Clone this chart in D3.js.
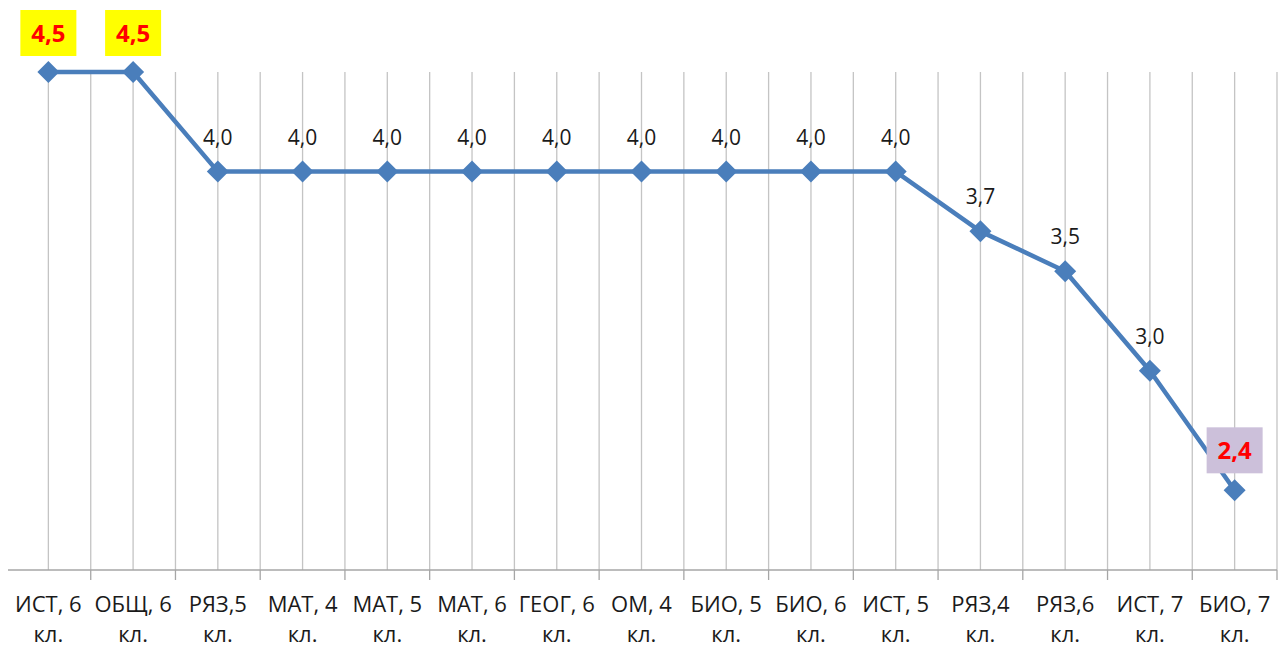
<!DOCTYPE html>
<html>
<head>
<meta charset="utf-8">
<script src="https://cdn.jsdelivr.net/npm/d3@7"></script>
<style>
  body { margin: 0; background: #fff; }
  text { font-family: "Open Sans", sans-serif; }
</style>
</head>
<body>
<div id="chart"></div>
<script>
const categories = ['ИСТ, 6 кл.', 'ОБЩ, 6 кл.', 'РЯЗ,5 кл.', 'МАТ, 4 кл.', 'МАТ, 5 кл.', 'МАТ, 6 кл.', 'ГЕОГ, 6 кл.', 'ОМ, 4 кл.', 'БИО, 5 кл.', 'БИО, 6 кл.', 'ИСТ, 5 кл.', 'РЯЗ,4 кл.', 'РЯЗ,6 кл.', 'ИСТ, 7 кл.', 'БИО, 7 кл.'];
const values = [4.5, 4.5, 4.0, 4.0, 4.0, 4.0, 4.0, 4.0, 4.0, 4.0, 4.0, 3.7, 3.5, 3.0, 2.4];
// highlighted labels: index -> box fill
const highlights = {0: '#ffff00', 1: '#ffff00', 14: '#ccc0da'};

const w = 1281, h = 650;
const plot_left = 6, plot_right = 1277, plot_top = 72, plot_bottom = 570;

const svg = d3.select('#chart').append('svg')
  .attr('width', w).attr('height', h);

const x = d3.scaleBand().domain(categories).range([plot_left, plot_right]);
const y = d3.scaleLinear().domain([2, 4.5]).range([plot_bottom, plot_top]);
const cx = d => x(d) + x.bandwidth() / 2;

// vertical gridlines at centres and band edges
const gridX = [];
categories.forEach((c, i) => {
  gridX.push(cx(c));
  gridX.push(x(c) + x.bandwidth());
});
svg.append('g').selectAll('line')
  .data(gridX)
  .enter().append('line')
  .attr('x1', d => d).attr('x2', d => d)
  .attr('y1', plot_top).attr('y2', plot_bottom)
  .attr('stroke', '#c4c4c4').attr('stroke-width', 1.3);

// x axis line + ticks
svg.append('line')
  .attr('x1', plot_left + 2).attr('x2', plot_right)
  .attr('y1', plot_bottom).attr('y2', plot_bottom)
  .attr('stroke', '#a6a6a6').attr('stroke-width', 1.3);
svg.append('g').selectAll('line')
  .data(categories)
  .enter().append('line')
  .attr('x1', d => x(d) + x.bandwidth()).attr('x2', d => x(d) + x.bandwidth())
  .attr('y1', plot_bottom).attr('y2', plot_bottom + 10)
  .attr('stroke', '#a6a6a6').attr('stroke-width', 1.3);

// category labels, two lines
const lab = svg.append('g').selectAll('text')
  .data(categories)
  .enter().append('text')
  .attr('text-anchor', 'middle')
  .attr('font-size', 22)
  .attr('fill', '#1a1a1a');
lab.append('tspan')
  .attr('x', d => cx(d)).attr('y', 612)
  .text(d => d.substring(0, d.lastIndexOf(' ')));
lab.append('tspan')
  .attr('x', d => cx(d)).attr('y', 642)
  .text(d => d.substring(d.lastIndexOf(' ') + 1));

// line
const line = d3.line()
  .x((d, i) => cx(categories[i]))
  .y(d => y(d));
svg.append('path')
  .datum(values)
  .attr('d', line)
  .attr('fill', 'none')
  .attr('stroke', '#4a7ebb')
  .attr('stroke-width', 4.5)
  .attr('stroke-linejoin', 'round');

// diamond markers
svg.append('g').selectAll('path')
  .data(values)
  .enter().append('path')
  .attr('d', 'M0,-11L11,0L0,11L-11,0Z')
  .attr('transform', (d, i) => 'translate(' + cx(categories[i]) + ',' + y(d) + ')')
  .attr('fill', '#4a7ebb');

// data labels
const fmt = v => v.toFixed(1).replace('.', ',');
values.forEach((v, i) => {
  const px = cx(categories[i]);
  const py = y(v);
  if (highlights[i]) {
    const by = i === 14 ? py - 40 : py - 39;
    svg.append('rect')
      .attr('x', px - 28).attr('y', by - 23)
      .attr('width', 56).attr('height', 46)
      .attr('fill', highlights[i]);
    svg.append('text')
      .attr('x', px).attr('y', by + 9)
      .attr('text-anchor', 'middle')
      .attr('font-size', 24).attr('font-weight', 'bold')
      .attr('fill', '#ff0000')
      .text(fmt(v));
  } else {
    svg.append('text')
      .attr('x', px).attr('y', py - 27)
      .attr('text-anchor', 'middle')
      .attr('font-size', 21)
      .attr('fill', '#1a1a1a')
      .text(fmt(v));
  }
});
</script>
</body>
</html>
